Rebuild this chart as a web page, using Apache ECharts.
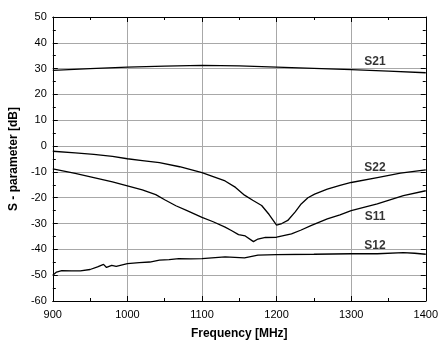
<!DOCTYPE html>
<html>
<head>
<meta charset="utf-8">
<script src="https://cdn.jsdelivr.net/npm/echarts@6/dist/echarts.min.js"></script>
<style>html,body{margin:0;padding:0;background:#fff}#c{width:441px;height:345px}</style>
</head>
<body>
<div id="c"></div>
<script>
// Frequency [MHz] / value [dB] pairs
const s21F = [900, 950, 1000, 1050, 1100, 1150, 1200, 1250, 1300, 1350, 1400];
const s21V = [29.3, 30.0, 30.6, 31.0, 31.3, 31.1, 30.6, 30.1, 29.6, 29.0, 28.4];

const s22F = [900, 930, 955, 980, 1000, 1020, 1043, 1070, 1100, 1115, 1131, 1145, 1157, 1168, 1180, 1190, 1200, 1207, 1215, 1225, 1233, 1242, 1251, 1268, 1285, 1300, 1335, 1366, 1400];
const s22V = [-2.0, -2.6, -3.2, -4.0, -4.9, -5.6, -6.4, -8.0, -10.3, -11.8, -13.5, -16.0, -19.0, -21.0, -23.0, -26.5, -30.6, -30.0, -28.8, -25.5, -22.4, -20.0, -18.6, -16.7, -15.2, -14.1, -12.2, -10.5, -9.2];

const s11F = [900, 930, 955, 980, 1000, 1020, 1038, 1050, 1065, 1080, 1100, 1115, 1131, 1140, 1149, 1158, 1169, 1175, 1185, 1200, 1220, 1233, 1246, 1268, 1285, 1300, 1335, 1370, 1400];
const s11V = [-8.8, -10.6, -12.2, -13.9, -15.4, -17.0, -18.8, -20.8, -23.1, -25.0, -27.6, -29.3, -31.4, -32.8, -34.3, -34.8, -37.0, -36.0, -35.4, -35.3, -34.0, -32.5, -30.8, -28.2, -26.6, -25.0, -22.4, -19.2, -17.3];

const s12F = [900, 905, 912, 925, 937, 950, 960, 968, 972, 979, 985, 1000, 1016, 1030, 1043, 1056, 1069, 1085, 1100, 1131, 1157, 1175, 1200, 1250, 1300, 1335, 1370, 1385, 1400];
const s12V = [-50.0, -48.8, -48.2, -48.3, -48.3, -47.8, -46.8, -45.8, -47.0, -46.2, -46.6, -45.5, -45.1, -44.9, -44.2, -44.0, -43.6, -43.7, -43.6, -42.9, -43.3, -42.2, -42.0, -41.9, -41.7, -41.7, -41.3, -41.5, -41.9];

const labelText = ['S21', 'S22', 'S11', 'S12'];
const labelF = [1332, 1332, 1332, 1332];
const labelV = [32.8, -8.5, -27.3, -38.5];

const xTicks = [900, 1000, 1100, 1200, 1300, 1400];
const yTicks = [-60, -50, -40, -30, -20, -10, 0, 10, 20, 30, 40, 50];

function pairs(f, v) { return f.map((x, i) => [x, v[i]]); }

const fontFam = '"Liberation Sans", Arial, sans-serif';
const chart = echarts.init(document.getElementById('c'), null, { renderer: 'canvas' });

const lineStyle = { color: '#000', width: 1.3 };
function lineSeries(name, f, v) {
  return { name, type: 'line', data: pairs(f, v), showSymbol: false, symbol: 'none',
    lineStyle, itemStyle: { color: '#000' }, animation: false, z: 3 };
}

const tickBase = { show: true, inside: true, length: 5, lineStyle: { color: '#000', width: 1 } };
const minorBase = { show: true, splitNumber: 2, length: 3, lineStyle: { color: '#000', width: 1 } };

chart.setOption({
  animation: false,
  backgroundColor: '#fff',
  grid: { left: 52, right: 12, top: 17, bottom: 41, containLabel: false },
  xAxis: [{
    type: 'value', min: 900, max: 1400, interval: 100,
    axisLine: { show: true, onZero: false, lineStyle: { color: '#000', width: 1 } },
    axisTick: tickBase, minorTick: minorBase,
    splitLine: { show: true, lineStyle: { color: '#a8a8a8', width: 1 } },
    axisLabel: { color: '#000', fontSize: 11, fontFamily: fontFam, margin: 8,
      formatter: v => xTicks.includes(v) ? String(v) : '' },
    name: 'Frequency [MHz]', nameLocation: 'middle', nameGap: 27,
    nameTextStyle: { color: '#000', fontSize: 12, fontWeight: 'bold', fontFamily: fontFam }
  }, {
    type: 'value', min: 900, max: 1400, interval: 100, position: 'top',
    axisLine: { show: true, onZero: false, lineStyle: { color: '#000', width: 1 } },
    axisTick: tickBase, minorTick: minorBase, splitLine: { show: false }, axisLabel: { show: false }
  }],
  yAxis: [{
    type: 'value', min: -60, max: 50, interval: 10,
    axisLine: { show: true, onZero: false, lineStyle: { color: '#000', width: 1 } },
    axisTick: tickBase, minorTick: minorBase,
    splitLine: { show: true, lineStyle: { color: '#a8a8a8', width: 1 } },
    axisLabel: { color: '#000', fontSize: 11, fontFamily: fontFam, margin: 6,
      formatter: v => yTicks.includes(v) ? String(v) : '' },
    name: 'S - parameter [dB]', nameLocation: 'middle', nameGap: 29, nameRotate: 90,
    nameTextStyle: { color: '#000', fontSize: 12, fontWeight: 'bold', fontFamily: fontFam }
  }, {
    type: 'value', min: -60, max: 50, interval: 10, position: 'right',
    axisLine: { show: true, onZero: false, lineStyle: { color: '#000', width: 1 } },
    axisTick: tickBase, minorTick: minorBase, splitLine: { show: false }, axisLabel: { show: false }
  }],
  series: [
    lineSeries('S21', s21F, s21V),
    lineSeries('S22', s22F, s22V),
    lineSeries('S11', s11F, s11V),
    lineSeries('S12', s12F, s12V),
    {
      type: 'scatter', symbolSize: 0, animation: false, z: 4,
      data: labelF.map((f, i) => ({ value: [f, labelV[i]], name: labelText[i] })),
      label: { show: true, position: 'inside', formatter: p => p.name,
        color: '#000', fontSize: 12, fontWeight: 'bold', fontFamily: fontFam }
    }
  ]
});
</script>
</body>
</html>
